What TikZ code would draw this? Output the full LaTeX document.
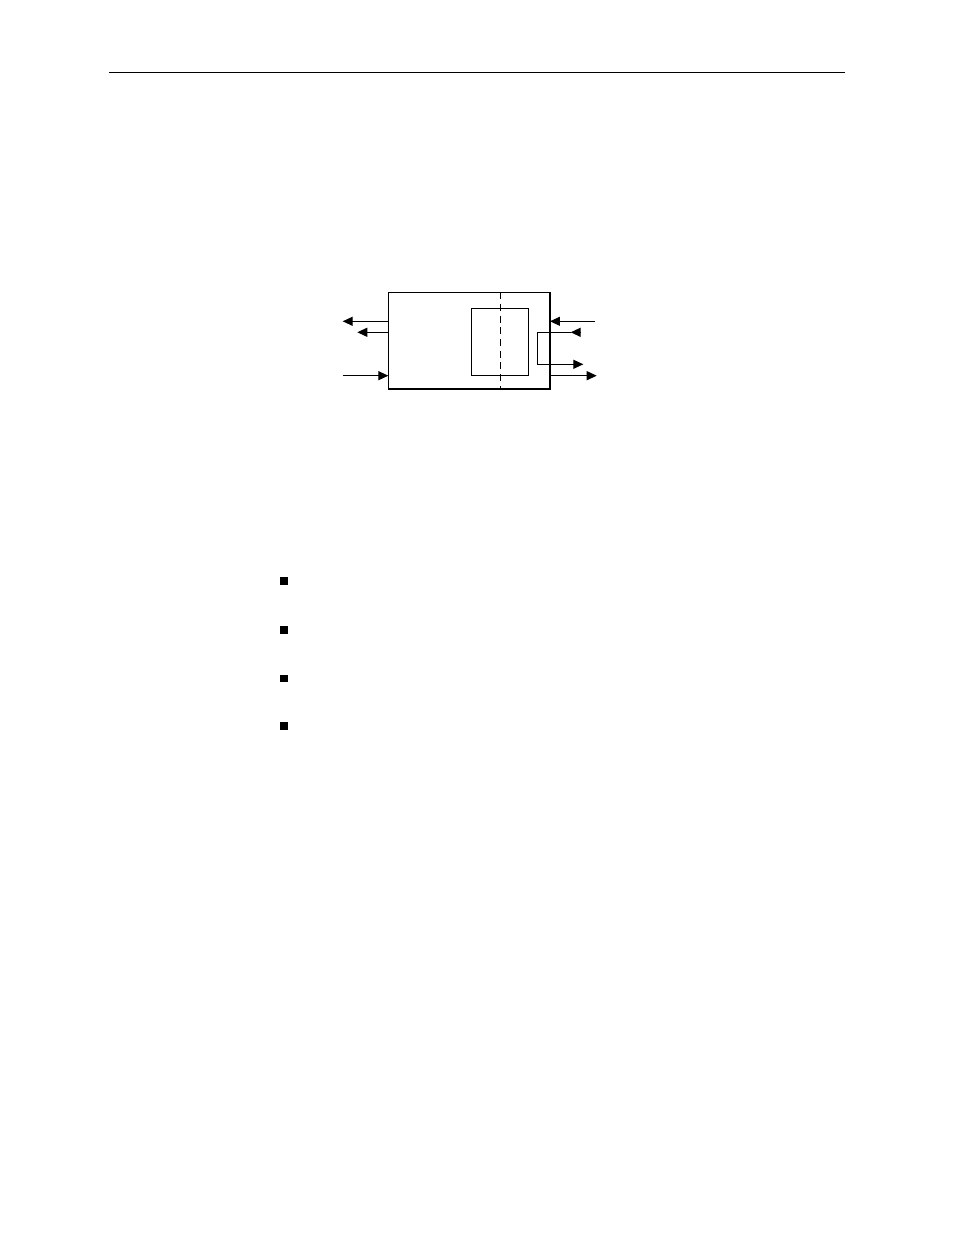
\documentclass[tikz,border=0pt]{standalone}
\usepackage{tikz}
\usetikzlibrary{arrows.meta}
\tikzset{
    flow/.style={-{Triangle[length=6.4bp,width=5.8bp]}, line width=0.65bp},
    frame/.style={line width=0.65bp},
    bullet/.style={fill=black, inner sep=0pt, minimum size=4.8bp},
}

\begin{document}
\begin{tikzpicture}[x=0.6415bp, y=-0.6415bp]
		\useasboundingbox (0,0) rectangle (954,1235);
		% header rule
		\coordinate (ruleL) at (109,72.3);
		\coordinate (ruleR) at (845,72.3);
		\draw[line width=1bp] (ruleL) -- (ruleR);
		% unit and inner block
		\coordinate (unitNW) at (388.3,292.3);
		\coordinate (unitSE) at (550,389);
		\coordinate (coreNW) at (471.7,308.3);
		\coordinate (coreSE) at (528.7,375.3);
		\draw[frame] (unitNW) rectangle (unitSE);
		\draw[line width=1.2bp] (unitSE) -- (unitSE |- unitNW);
		\draw[frame] (coreNW) rectangle (coreSE);
		\coordinate (splitT) at (500.7,292.3);
		\coordinate (splitB) at (500.7,389);
		\draw[frame, dash pattern=on 4.5bp off 3bp] (splitT) -- (splitB);
		% left side
		\coordinate (outA) at (342.7,321.3);
		\coordinate (outB) at (357.3,332.3);
		\coordinate (inC) at (342.7,375.7);
		\draw[flow] (unitNW |- outA) -- (outA);
		\draw[flow] (unitNW |- outB) -- (outB);
		\draw[flow] (inC) -- (unitNW |- inC);
		% right side
		\coordinate (inD) at (595,321.3);
		\coordinate (outE) at (596.7,375.7);
		\draw[flow] (inD) -- (unitSE |- inD);
		\draw[flow] (unitSE |- outE) -- (outE);
		% loop through side port
		\coordinate (loopA) at (580.7,332.3);
		\coordinate (loopB) at (570.7,332.3);
		\coordinate (loopC) at (537.3,332.3);
		\coordinate (loopD) at (537.3,364.3);
		\coordinate (loopE) at (583.3,364.3);
		\draw[flow] (loopA) -- (loopB);
		\draw[flow] (loopB) -- (loopC) -- (loopD) -- (loopE);
		% bullets
		\foreach \y [count=\i] in {581,630,678.3,726}
			\node[bullet] (dot\i) at (283.8,\y) {};
	\end{tikzpicture}
\end{document}
